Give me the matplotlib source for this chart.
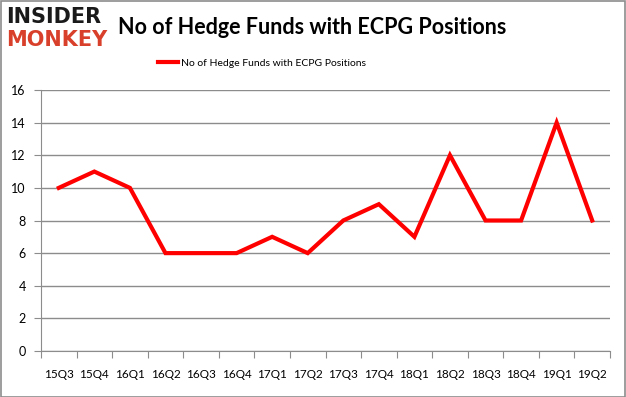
import matplotlib
matplotlib.use("Agg")
import matplotlib.pyplot as plt
from matplotlib.patches import Rectangle

quarters = ["15Q3", "15Q4", "16Q1", "16Q2", "16Q3", "16Q4", "17Q1", "17Q2",
            "17Q3", "17Q4", "18Q1", "18Q2", "18Q3", "18Q4", "19Q1", "19Q2"]
funds = [10, 11, 10, 6, 6, 6, 7, 6, 8, 9, 7, 12, 8, 8, 14, 8]
yticks = [0, 2, 4, 6, 8, 10, 12, 14, 16]
series_name = "No of Hedge Funds with ECPG Positions"
title = "No of Hedge Funds with ECPG Positions"

plt.rcParams['font.family'] = ['Lato', 'DejaVu Sans']

W, H = 626, 397
fig = plt.figure(figsize=(W/100, H/100), dpi=100)

# outer frame
fig.patches.append(Rectangle((0.5/W, 0.5/H), 1-1.5/W, 1-1.5/H, transform=fig.transFigure,
                             fill=False, edgecolor='#8c8c8c', linewidth=1.2))

left, right, top, bottom = 41, 610, 90, 351
ax = fig.add_axes([left/W, 1-bottom/H, (right-left)/W, (bottom-top)/H])

x = list(range(len(quarters)))
ax.plot(x, funds, color='#ff0000', linewidth=3, label=series_name, solid_joinstyle='miter')
ax.set_xlim(-0.5, len(quarters)-0.5)
ax.set_ylim(0, 16)
ax.set_yticks(yticks)
ax.set_yticklabels([str(v) for v in yticks], fontsize=9)
ax.set_xticks([i-0.5 for i in range(len(quarters)+1)], minor=False)
ax.set_xticklabels([])
ax.set_xticks(x, minor=True)
ax.set_xticklabels(quarters, minor=True, fontsize=8.5)
ax.tick_params(axis='x', which='major', length=5, color='#8c8c8c', direction='out')
ax.tick_params(axis='x', which='minor', length=0, pad=13)
ax.tick_params(axis='y', length=5, color='#8c8c8c', pad=6)
ax.grid(axis='y', color='#8c8c8c', linewidth=1)
ax.set_axisbelow(True)
for s in ['top', 'right']:
    ax.spines[s].set_visible(False)
for s in ['left', 'bottom']:
    ax.spines[s].set_color('#8c8c8c')

leg = fig.legend(loc='center', bbox_to_anchor=(262/W, 1-63/H), frameon=False,
                 fontsize=7.5, handlelength=2.0, handletextpad=0.3)

fig.text(118/W, 1-27/H, title, fontsize=15.5, fontweight='bold', va='center', ha='left',
         family=['Lato', 'DejaVu Sans'])
fig.text(6/W, 1-17/H, "INSIDER", fontsize=15, fontweight='heavy', color='#1a1a1a',
         va='center', ha='left', family=['DejaVu Sans'])
fig.text(6/W, 1-40/H, "MONKEY", fontsize=15, fontweight='heavy', color='#d9402b',
         va='center', ha='left', family=['DejaVu Sans'])

fig.savefig("out.png", dpi=100)
